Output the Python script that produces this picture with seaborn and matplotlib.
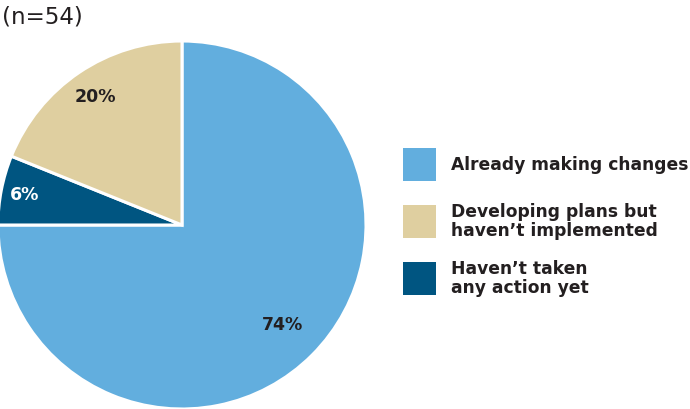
import matplotlib
matplotlib.use("Agg")
import matplotlib.pyplot as plt
import seaborn as sns
import numpy as np
from matplotlib.patches import Rectangle

categories = ["Already making changes", "Haven\u2019t taken\nany action yet", "Developing plans but\nhaven\u2019t implemented"]
shares = [75.0, 6.1, 18.9]          # wedge sizes as drawn
pct_labels = ["74%", "6%", "20%"]
colors = ["#62AEDE", "#005581", "#DFCFA0"]
legend_order = [0, 2, 1]
title = "(n=54)"

sns.set_theme(style="white")
plt.rcParams["font.family"] = ["DejaVu Sans"]

W, H = 690, 409
fig = plt.figure(figsize=(W / 100, H / 100), dpi=100)
ax = fig.add_axes([0, 0, 1, 1])

cx, cy, R = 182, 409 - 225, 184
wedges, _ = ax.pie(shares, colors=colors, startangle=90, counterclock=False,
                   center=(cx, cy), radius=R, frame=True,
                   wedgeprops=dict(edgecolor="white", linewidth=2.2))
ax.set_xlim(0, W)
ax.set_ylim(0, H)
ax.set_aspect("equal")
ax.axis("off")

label_r = [0.77, 0.87, 0.84]
label_col = ["#231F20", "white", "#231F20"]
for w, lab, rf, c in zip(wedges, pct_labels, label_r, label_col):
    ang = np.deg2rad((w.theta1 + w.theta2) / 2)
    ax.text(cx + rf * R * np.cos(ang), cy + rf * R * np.sin(ang), lab,
            ha="center", va="center", fontsize=12.5, fontweight="bold", color=c)

fig.text(2 / W, 1 - 17 / H, title, ha="left", va="center", fontsize=16.5,
         color="#231F20", fontweight="medium")

# legend drawn as swatches + text
sq, x0, top0, step = 33, 403, 148, 57
for k, i in enumerate(legend_order):
    top = top0 + k * step
    ax.add_patch(Rectangle((x0, H - top - sq), sq, sq, facecolor=colors[i],
                           edgecolor="none", clip_on=False))
    ax.text(451, H - top - sq / 2, categories[i], ha="left", va="center",
            fontsize=12.3, fontweight="bold", color="#231F20", linespacing=1.05)

fig.savefig("out.png", dpi=100)
